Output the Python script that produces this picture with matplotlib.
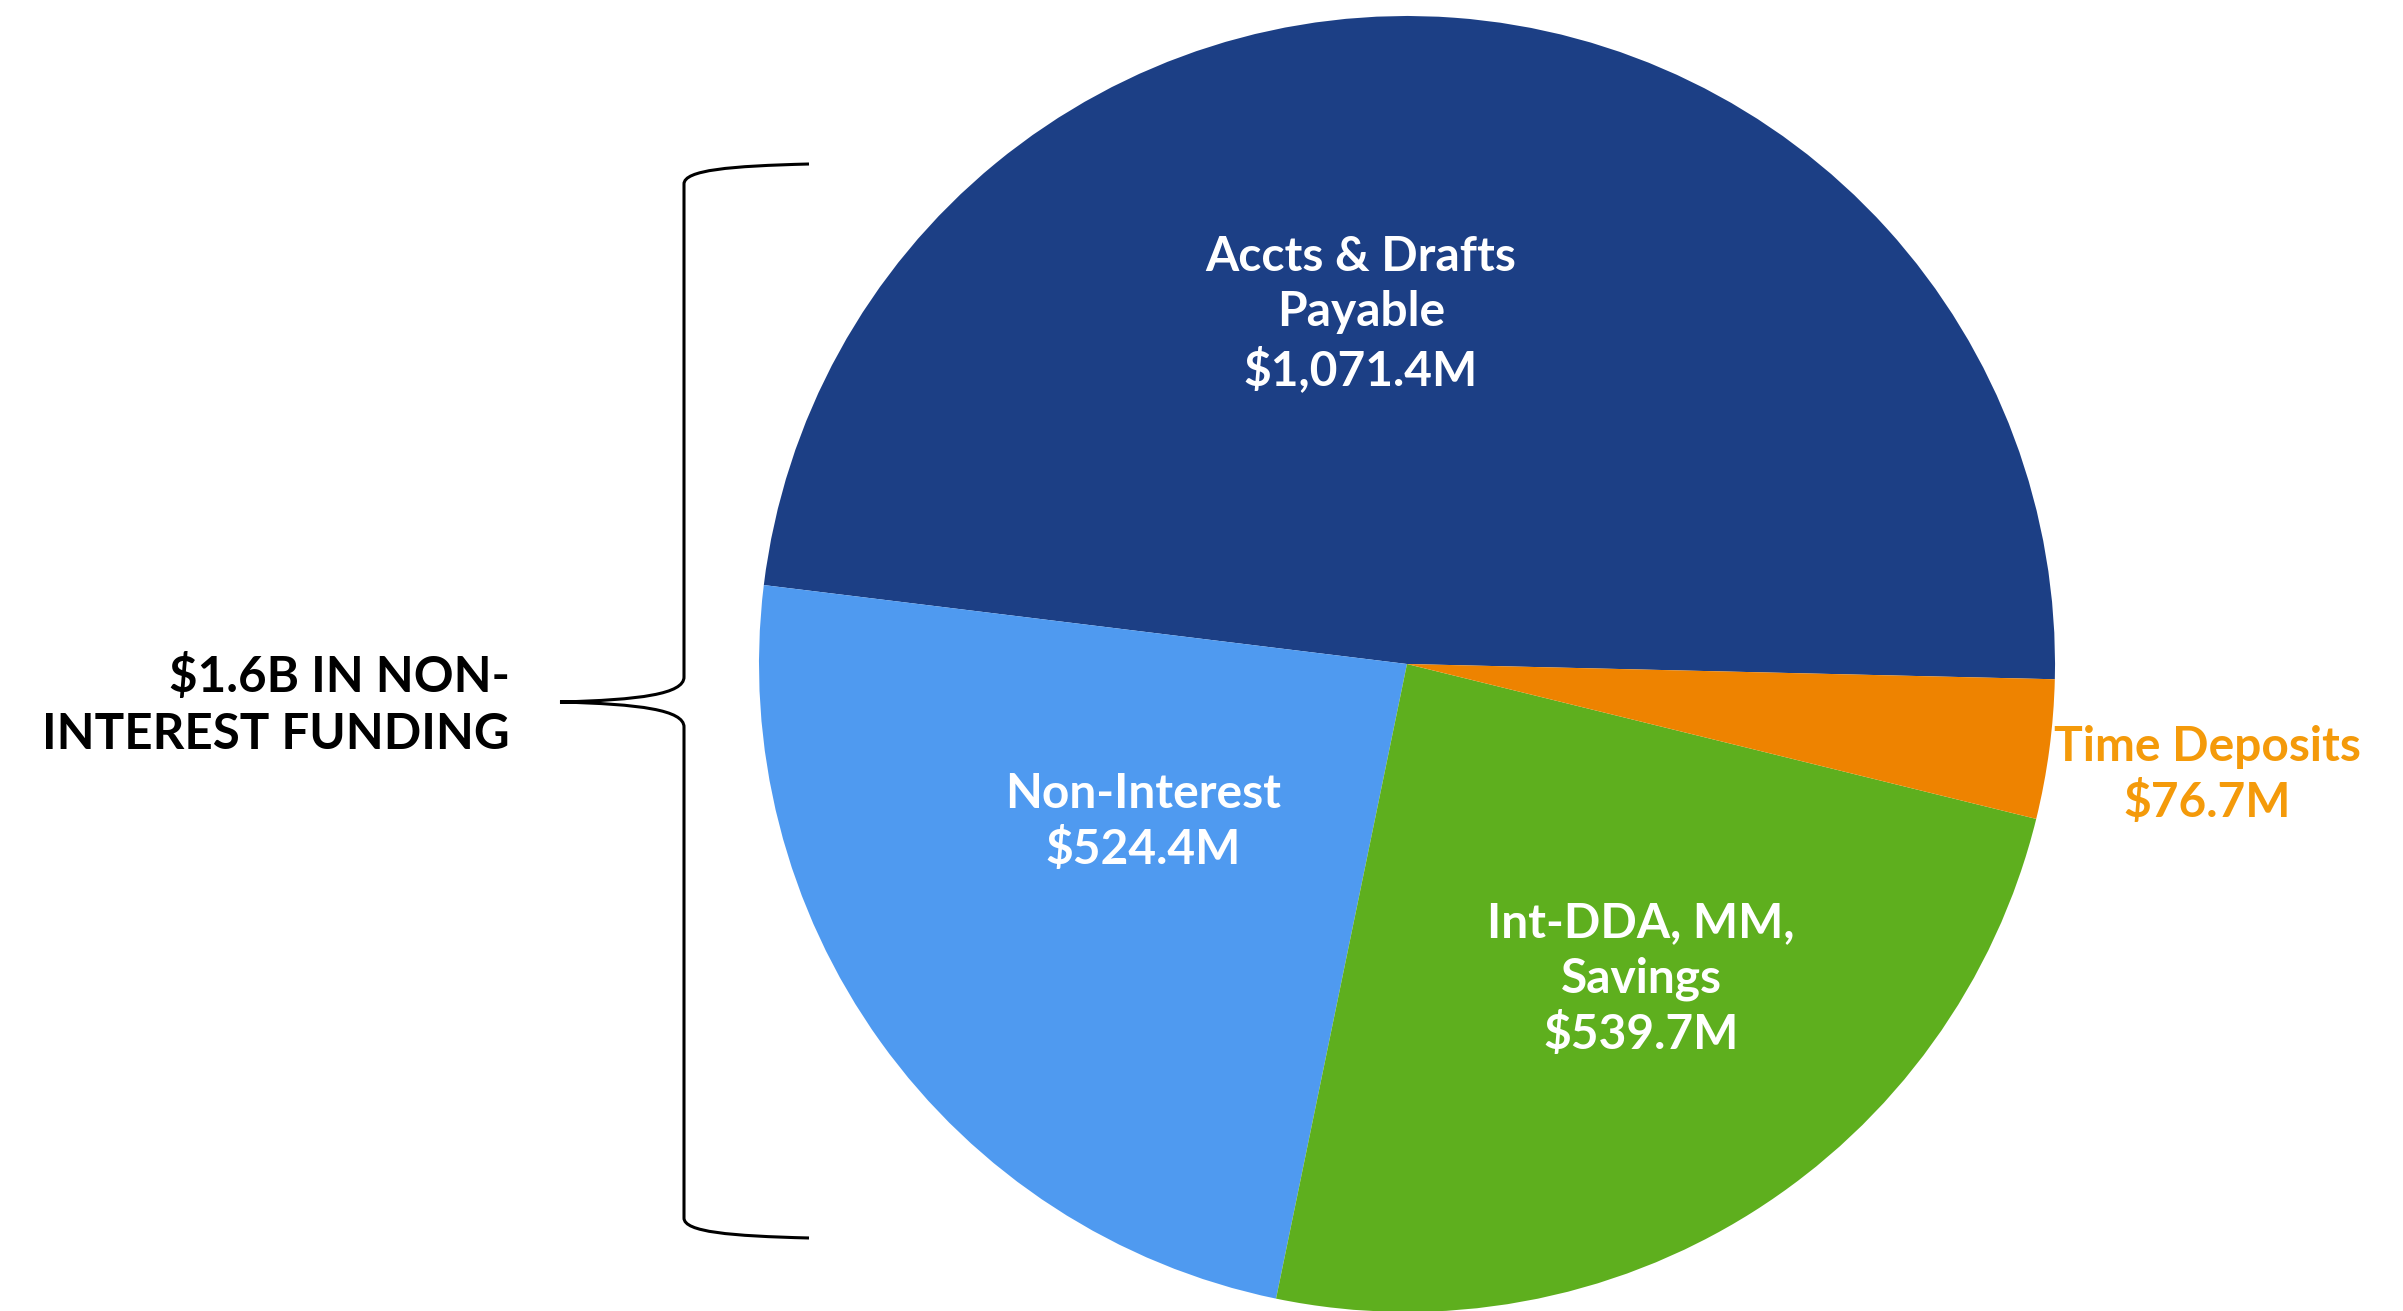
import matplotlib
matplotlib.use("AGG")
import matplotlib.pyplot as plt
from matplotlib.path import Path
from matplotlib.patches import PathPatch

# data (counterclockwise from the right side)
categories = ["Accts & Drafts\nPayable", "Non-Interest", "Int-DDA, MM,\nSavings", "Time Deposits"]
values = [1071.4, 524.4, 539.7, 76.7]
colors = ["#1C3F85", "#4F9AF0", "#5EAF1E", "#EE8300"]
brace_label = "$1.6B IN NON-\nINTEREST FUNDING"

W, H = 2403, 1311
fig = plt.figure(figsize=(W / 100, H / 100), dpi=100)
ax = fig.add_axes([0, 0, 1, 1])

# pie in pixel units (y up)
ax.pie(values, colors=colors, startangle=-1.35, counterclock=True,
       center=(1407, 647), radius=648, frame=True,
       wedgeprops=dict(linewidth=0))
ax.set_xlim(0, W)
ax.set_ylim(0, H)
ax.set_aspect("equal")
ax.axis("off")

font = dict(family="Lato", weight="bold", fontsize=34.5, ha="center", va="center",
            linespacing=1.3)

def fmt(v):
    return "${:,.1f}M".format(v)

# label positions (layout only)
label_pos = [(1361, 997), (1143, 489), (1641, 332), (2207, 536)]
label_col = ["white", "white", "white", "#F49A0A"]
for name, v, (x, y), c in zip(categories, values, label_pos, label_col):
    ax.text(x, y, name + "\n" + fmt(v), color=c, **font)

# brace on the left
top, bot, mid = 1147, 73, 609
xv, xt, xe = 684, 560, 809
verts = [
    (xe, top), (730, top - 2), (684, top - 6), (xv, top - 20),
    (xv, mid + 25),
    (xv, mid + 8), (640, mid + 2), (xt, mid),
    (640, mid - 2), (xv, mid - 8), (xv, mid - 25),
    (xv, bot + 20),
    (684, bot + 6), (730, bot + 2), (xe, bot),
]
codes = [Path.MOVETO, Path.CURVE4, Path.CURVE4, Path.CURVE4,
         Path.LINETO,
         Path.CURVE4, Path.CURVE4, Path.CURVE4,
         Path.CURVE4, Path.CURVE4, Path.CURVE4,
         Path.LINETO,
         Path.CURVE4, Path.CURVE4, Path.CURVE4]
ax.add_patch(PathPatch(Path(verts, codes), facecolor="none", edgecolor="black", lw=2.2))

ax.text(510, 606, brace_label, family="Lato", weight="bold", fontsize=35.5,
        ha="right", va="center", multialignment="right", linespacing=1.33, color="black")

fig.savefig("out.png", dpi=100)
